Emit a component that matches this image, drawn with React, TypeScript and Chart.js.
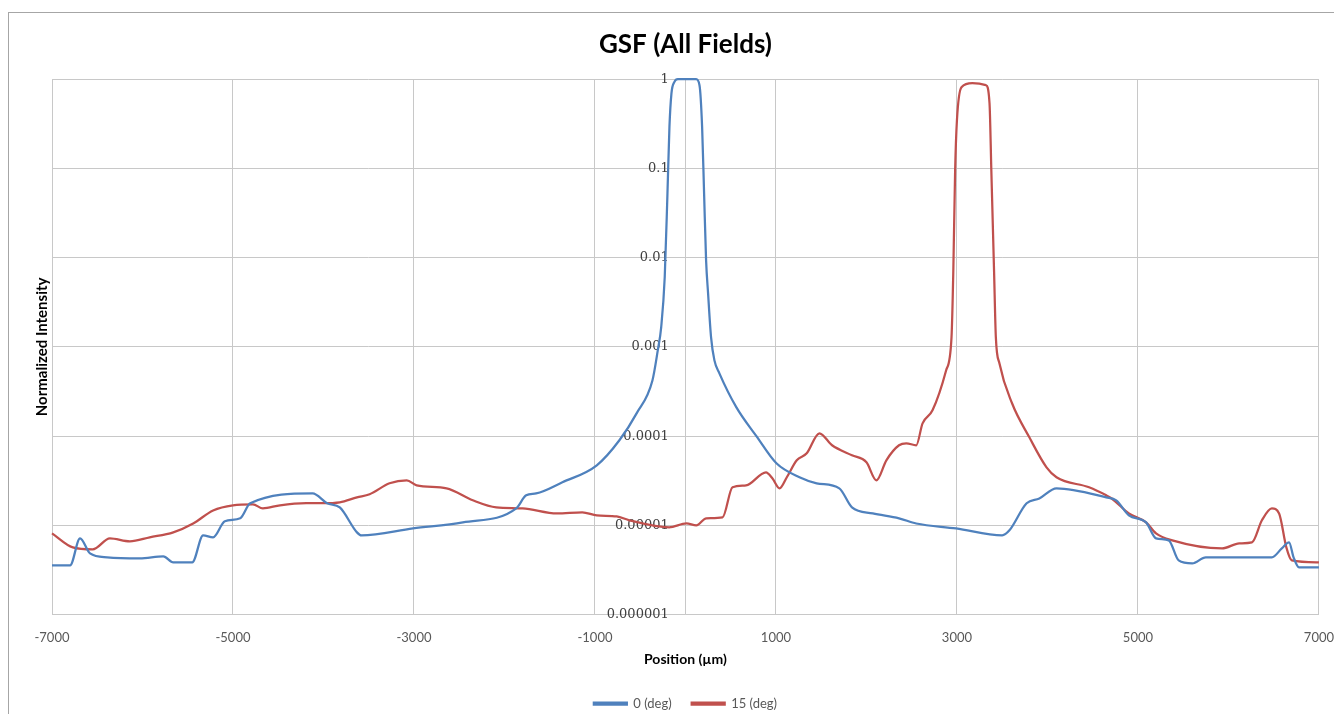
import React, { useEffect, useRef } from "react";
import { Chart, registerables } from "chart.js";

Chart.register(...registerables);

const titleText = "GSF (All Fields)";
const xAxisTitle = "Position (µm)";
const yAxisTitle = "Normalized Intensity";
const seriesNames = ["0 (deg)", "15 (deg)"];

const xTicks = [-7000, -5000, -3000, -1000, 1000, 3000, 5000, 7000];
const xAxisCross = 0;
const yTicks = [1, 0.1, 0.01, 0.001, 0.0001, 0.00001, 0.000001];
const yTickLabels = ["1", "0.1", "0.01", "0.001", "0.0001", "0.00001", "0.000001"];

const blueX = [
  -7000, -6800, -6690, -6580, -6390, -6030, -5770, -5660, -5450, -5330, -5220, -5090, -4920, -4810,
  -4120, -3960, -3820, -3630, -3580, -3010, -2460, -1870, -1760, -1650, -1360, -980, -730, -540,
  -365, -306, -268, -229, -199, -177, -155, -122, -84, 118, 155, 184, 206, 228, 250, 283, 320, 375,
  563, 784, 1005, 1260, 1450, 1700, 1840, 2070, 2360, 2550, 2990, 3500, 3580, 3770, 3910, 4100,
  4650, 4760, 4900, 5090, 5200, 5340, 5450, 5600, 5750, 6480, 6590, 6670, 6720, 6780, 7000,
];
const blueY = [
  3.56e-6, 3.56e-6, 7.15e-6, 4.85e-6, 4.38e-6, 4.27e-6, 4.49e-6, 3.85e-6, 3.85e-6, 7.72e-6, 7.34e-6,
  1.11e-5, 1.2e-5, 1.77e-5, 2.28e-5, 1.77e-5, 1.59e-5, 8.35e-6, 7.72e-6, 9.25e-6, 1.08e-5, 1.55e-5,
  2.17e-5, 2.28e-5, 3.04e-5, 4.71e-5, 8.99e-5, 1.8e-4, 4.21e-4, 9.14e-4, 1.67e-3, 6.07e-3, 0.0522,
  0.292, 0.69, 0.933, 1, 1, 0.857, 0.292, 0.0522, 9.33e-3, 3.98e-3, 1.28e-3, 7.06e-4, 5.05e-4,
  2.1e-4, 1.0e-4, 4.96e-5, 3.46e-5, 2.96e-5, 2.6e-5, 1.59e-5, 1.36e-5, 1.2e-5, 1.05e-5, 9.25e-6,
  7.72e-6, 8.79e-6, 1.77e-5, 2.0e-5, 2.6e-5, 2.06e-5, 1.91e-5, 1.295e-5, 1.08e-5, 7.15e-6, 6.79e-6,
  4.05e-6, 3.75e-6, 4.38e-6, 4.38e-6, 5.52e-6, 6.45e-6, 4.38e-6, 3.38e-6, 3.38e-6,
];

const redX = [
  -7000, -6770, -6550, -6360, -6140, -5920, -5660, -5440, -5220, -5000, -4780, -4670, -4480, -4190,
  -4010, -3820, -3630, -3490, -3270, -3080, -2970, -2640, -2350, -2090, -1800, -1420, -1140, -980,
  -760, -620, -180, 10, 120, 230, 410, 520, 670, 890, 960, 1040, 1120, 1230, 1340, 1480, 1620, 1840,
  2000, 2110, 2220, 2360, 2440, 2550, 2620, 2730, 2880, 2940, 2960, 2980, 3000, 3050, 3170, 3320,
  3360, 3380, 3410, 3430, 3470, 3610, 3800, 3990, 4100, 4460, 4650, 4710, 4900, 5090, 5200, 5380,
  5930, 6120, 6260, 6370, 6480, 6560, 6640, 6700, 7000,
];
const redY = [
  8.14e-6, 5.66e-6, 5.38e-6, 7.15e-6, 6.62e-6, 7.34e-6, 8.35e-6, 1.05e-5, 1.47e-5, 1.68e-5, 1.72e-5,
  1.55e-5, 1.68e-5, 1.77e-5, 1.77e-5, 1.81e-5, 2.06e-5, 2.23e-5, 2.96e-5, 3.2e-5, 2.81e-5, 2.6e-5,
  1.91e-5, 1.59e-5, 1.55e-5, 1.36e-5, 1.4e-5, 1.295e-5, 1.26e-5, 1.14e-5, 9.5e-6, 1.05e-5, 1.0e-5,
  1.2e-5, 1.23e-5, 2.67e-5, 2.81e-5, 3.93e-5, 3.37e-5, 2.6e-5, 3.46e-5, 5.36e-5, 6.42e-5, 1.076e-4,
  7.9e-5, 6.1e-5, 5.09e-5, 3.2e-5, 5.36e-5, 7.9e-5, 8.31e-5, 7.9e-5, 1.39e-4, 1.95e-4, 5.45e-4,
  1.28e-3, 7.2e-3, 0.0954, 0.347, 0.813, 0.902, 0.857, 0.538, 0.0954, 7.2e-3, 1.28e-3, 6.53e-4,
  2.32e-4, 9.7e-5, 4.47e-5, 3.46e-5, 2.67e-5, 2.17e-5, 2.0e-5, 1.36e-5, 1.08e-5, 8.14e-6, 6.79e-6,
  5.52e-6, 6.28e-6, 6.45e-6, 1.14e-5, 1.55e-5, 1.36e-5, 5.66e-6, 4.05e-6, 3.85e-6,
];

const BLUE = "#4f81bd";
const RED = "#c0504d";
const GRID = "#c8c8c8";

const yTitlePlugin = {
  id: "yTitlePlugin",
  afterDraw(chart: any) {
    const { ctx, chartArea } = chart;
    ctx.save();
    ctx.translate(chartArea.left - 10, (chartArea.top + chartArea.bottom) / 2);
    ctx.rotate(-Math.PI / 2);
    ctx.font = "bold 15px Lato";
    ctx.fillStyle = "#000000";
    ctx.textAlign = "center";
    ctx.textBaseline = "middle";
    ctx.fillText(yAxisTitle, 0, 0);
    ctx.restore();
  },
};

export default function App() {
  const ref = useRef<HTMLCanvasElement | null>(null);

  useEffect(() => {
    if (!ref.current) return;
    const chart = new Chart(ref.current, {
      type: "line",
      data: {
        datasets: [
          {
            label: seriesNames[0],
            data: blueX.map((x, i) => ({ x, y: blueY[i] })),
            borderColor: BLUE,
            backgroundColor: BLUE,
            borderWidth: 2.25,
            pointRadius: 0,
            cubicInterpolationMode: "monotone",
            clip: 6,
          },
          {
            label: seriesNames[1],
            data: redX.map((x, i) => ({ x, y: redY[i] })),
            borderColor: RED,
            backgroundColor: RED,
            borderWidth: 2.25,
            pointRadius: 0,
            cubicInterpolationMode: "monotone",
            clip: 6,
          },
        ],
      },
      options: {
        animation: false,
        responsive: true,
        maintainAspectRatio: false,
        layout: { padding: { left: 43, right: 0, top: 0, bottom: -6 } },
        plugins: {
          title: {
            display: true,
            text: titleText,
            fullSize: false,
            color: "#000000",
            font: { family: "Lato", size: 26, weight: "bold" },
            padding: { top: 16, bottom: 19 },
          },
          legend: {
            position: "bottom",
            fullSize: false,
            labels: {
              boxWidth: 33,
              boxHeight: 2,
              padding: 20,
              color: "#595959",
              font: { family: "Lato", size: 13 },
            },
          },
          tooltip: { enabled: false },
        },
        scales: {
          x: {
            type: "linear",
            min: -7000,
            max: 7000,
            afterBuildTicks: (scale: any) => {
              scale.ticks = [...xTicks, xAxisCross].sort((a, b) => a - b).map((v) => ({ value: v }));
            },
            ticks: {
              autoSkip: false,
              maxRotation: 0,
              padding: 0,
              color: "#595959",
              font: { family: "Lato", size: 13 },
              callback: (v: any) => (v === xAxisCross ? "" : String(v)),
            },
            grid: { color: GRID, drawTicks: true, tickLength: 15, tickColor: "rgba(0,0,0,0)" },
            border: { color: GRID },
            title: {
              display: true,
              text: xAxisTitle,
              color: "#000000",
              font: { family: "Lato", size: 14, weight: "bold" },
              padding: { top: 6, bottom: 9 },
            },
          },
          y: {
            type: "logarithmic",
            position: { x: -185 } as any,
            min: 0.000001,
            max: 1,
            afterBuildTicks: (scale: any) => {
              scale.ticks = yTicks.map((v) => ({ value: v }));
            },
            ticks: {
              autoSkip: false,
              color: "#404040",
              font: { family: "DejaVu Serif", size: 13 },
              callback: (v: any) => {
                const i = yTicks.findIndex((t) => Math.abs(Math.log10(t) - Math.log10(v)) < 1e-6);
                return i >= 0 ? yTickLabels[i] : "";
              },
            },
            grid: { color: GRID, drawTicks: false },
            border: { display: false },
          },
        },
      },
      plugins: [yTitlePlugin],
    });
    return () => chart.destroy();
  }, []);

  return (
    <div
      style={{
        marginTop: 4,
        borderLeft: "1px solid #a6a6a6",
        borderTop: "1px solid #a6a6a6",
        height: 701,
        position: "relative",
      }}
    >
      <canvas ref={ref} />
    </div>
  );
}
